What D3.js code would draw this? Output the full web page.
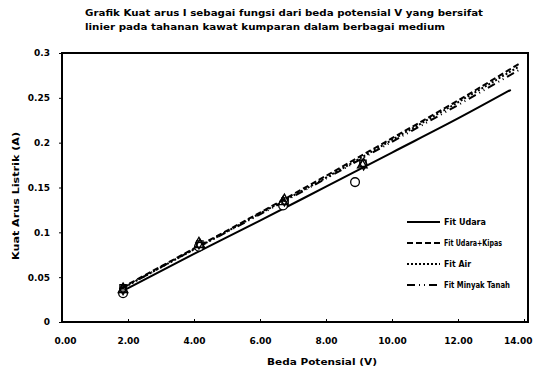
<!DOCTYPE html>
<html><head><meta charset="utf-8">
<script src="https://cdn.jsdelivr.net/npm/d3@7"></script>
<style>body{margin:0;background:#fff}svg{display:block}text{font-family:"DejaVu Sans",sans-serif;font-weight:bold;fill:#000}</style>
</head><body><svg id="c" width="533" height="368"></svg>
<script>
const titleLines = ["Grafik Kuat arus I sebagai fungsi dari beda potensial V yang bersifat",
                    "linier pada tahanan kawat kumparan dalam berbagai medium"];
const xTicks = [0,2,4,6,8,10,12,14];
const yTicks = [0,0.05,0.1,0.15,0.2,0.25,0.3];
const yTickLabels = ["0","0.05","0.1","0.15","0.2","0.25","0.3"];
const seriesNames = ["Fit Udara","Fit Udara+Kipas","Fit Air","Fit Minyak Tanah"];
// measured points
const udaraX = [1.85, 4.15, 6.7, 8.88];
const udaraY = [0.032, 0.084, 0.13, 0.156];
const kipasX = [1.85, 4.18, 6.76, 9.12];
const kipasY = [0.038, 0.087, 0.135, 0.177];
const airX = [1.85, 4.18, 6.7, 9.1];
const airY = [0.036, 0.086, 0.134, 0.175];
const minyakX = [1.85, 4.15, 6.74, 9.14];
const minyakY = [0.037, 0.088, 0.136, 0.176];
// fit lines
const fitUdaraX = [1.8, 4, 6, 8, 10, 12, 13.6];
const fitUdaraY = [0.034, 0.076, 0.113, 0.151, 0.189, 0.227, 0.259];
const fitKipasX = [1.8, 4, 6, 8, 10, 12, 13.85];
const fitKipasY = [0.038, 0.082, 0.122, 0.163, 0.205, 0.247, 0.288];
const fitAirX = [1.8, 4, 6, 8, 10, 12, 13.85];
const fitAirY = [0.037, 0.081, 0.121, 0.161, 0.203, 0.245, 0.285];
const fitMinyakX = [1.8, 4, 6, 8, 10, 12, 13.85];
const fitMinyakY = [0.037, 0.081, 0.120, 0.160, 0.201, 0.242, 0.281];

const svg = d3.select("#c");
const x = d3.scaleLinear().domain([0,14]).range([62,524]);
const y = d3.scaleLinear().domain([0,0.3]).range([322,53]);

// title
const titleW = [398, 360];
svg.selectAll("text.title").data(titleLines).enter().append("text")
  .attr("x",85).attr("y",(d,i)=>16+i*14)
  .attr("font-size",9.5).attr("textLength",(d,i)=>titleW[i]).attr("lengthAdjust","spacingAndGlyphs").text(d=>d);

// frame
svg.append("rect").attr("x",62).attr("y",53).attr("width",466).attr("height",269)
  .attr("fill","none").attr("stroke","#000").attr("stroke-width",2);

// axes
const xa = svg.append("g").attr("transform","translate(0,322)")
  .call(d3.axisBottom(x).tickValues(xTicks).tickFormat(d3.format(".2f")).tickSize(-3).tickPadding(16));
xa.select(".domain").remove();
xa.selectAll("text").attr("font-size",9).style("font-family","DejaVu Sans").style("font-weight","bold")
  .attr("dx",(d,i)=> i===0 ? 3 : 0);
xa.selectAll(".tick").filter(d=>d===14).select("text").attr("text-anchor","end").attr("x",8);
const ya = svg.append("g").attr("transform","translate(62,0)")
  .call(d3.axisLeft(y).tickValues(yTicks).tickFormat((d,i)=>yTickLabels[i]).tickSize(3).tickPadding(9));
ya.select(".domain").remove();
ya.selectAll("text").attr("font-size",9).style("font-family","DejaVu Sans").style("font-weight","bold");

svg.append("text").attr("x",322).attr("y",365).attr("text-anchor","middle").attr("font-size",9.5)
  .attr("textLength",110).attr("lengthAdjust","spacingAndGlyphs").text("Beda Potensial (V)");
svg.append("text").attr("transform","translate(19,196) rotate(-90)").attr("text-anchor","middle").attr("font-size",9.5)
  .attr("textLength",128).attr("lengthAdjust","spacingAndGlyphs").text("Kuat Arus Listrik (A)");

const line = d3.line().x(d=>x(d[0])).y(d=>y(d[1])).curve(d3.curveMonotoneX);
const fits = [
  {xs:fitUdaraX, ys:fitUdaraY, dash:null},
  {xs:fitKipasX, ys:fitKipasY, dash:"6,3"},
  {xs:fitAirX, ys:fitAirY, dash:"2,2"},
  {xs:fitMinyakX, ys:fitMinyakY, dash:"8,4,1,4,1,4"}
];
fits.forEach(f=>{
  svg.append("path").datum(f.xs.map((v,i)=>[v,f.ys[i]])).attr("d",line)
    .attr("fill","none").attr("stroke","#000").attr("stroke-width",2)
    .attr("stroke-dasharray",f.dash);
});

// markers
const sym = [d3.symbolCircle, d3.symbolSquare, d3.symbolTriangle, d3.symbolDiamond];
const pts = [[udaraX,udaraY],[kipasX,kipasY],[airX,airY],[minyakX,minyakY]];
pts.forEach((p,k)=>{
  svg.selectAll(null).data(p[0].map((v,i)=>[v,p[1][i]])).enter().append("path")
    .attr("transform",d=>`translate(${x(d[0])},${y(d[1])})`)
    .attr("d",d3.symbol().type(sym[k]).size(k===0?60:40))
    .attr("fill",k===0?"#fff":"none").attr("stroke","#000").attr("stroke-width",1.3);
});

// legend
const lg = svg.append("g");
const legW = [42, 58, 27, 66];
seriesNames.forEach((n,i)=>{
  const yy = 222 + i*21;
  lg.append("line").attr("x1",407).attr("x2",440).attr("y1",yy).attr("y2",yy)
    .attr("stroke","#000").attr("stroke-width",2).attr("stroke-dasharray",fits[i].dash);
  lg.append("text").attr("x",444).attr("y",yy+3).attr("font-size",8)
    .attr("textLength",legW[i]).attr("lengthAdjust","spacingAndGlyphs").text(n);
});
</script></body></html>
